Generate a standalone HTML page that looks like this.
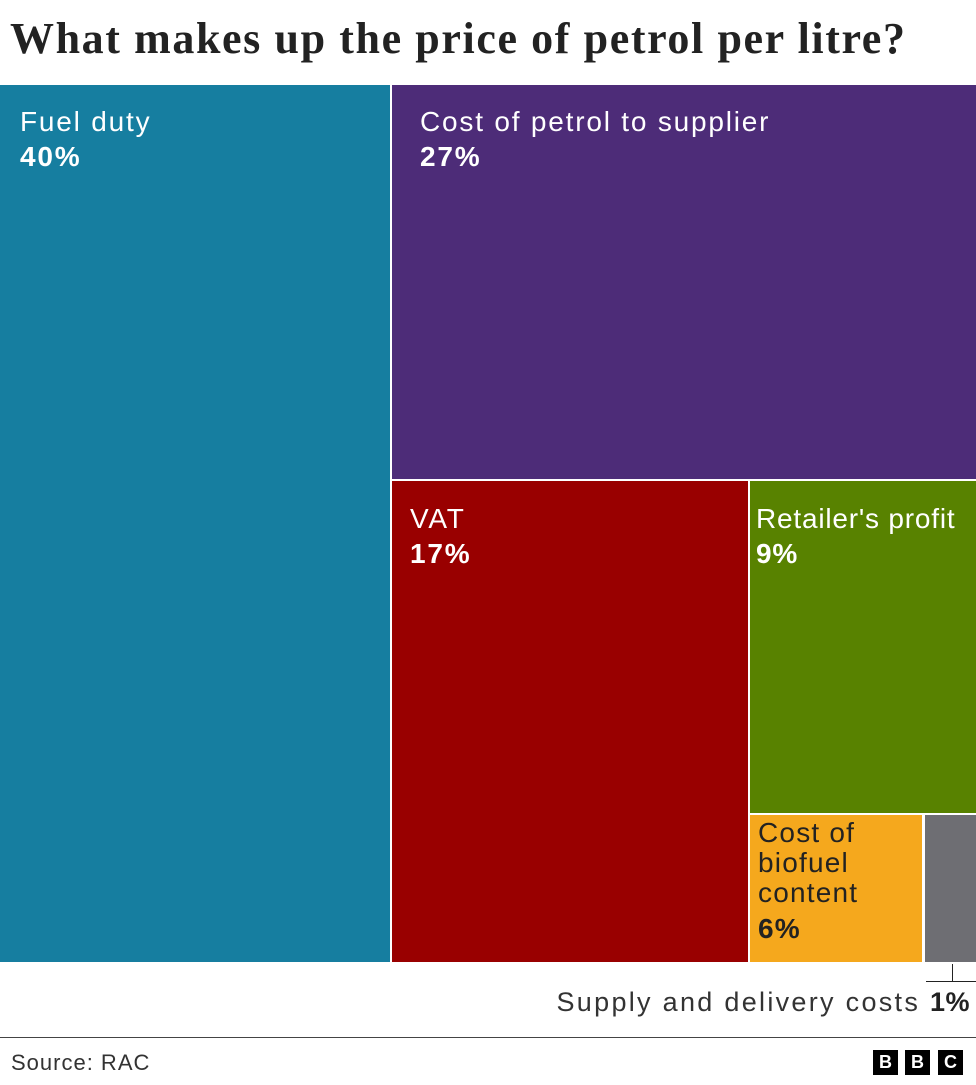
<!DOCTYPE html>
<html><head><meta charset="utf-8"><style>
body{margin:0;width:976px;height:1085px;background:#fff;position:relative;overflow:hidden;font-family:"Liberation Sans",sans-serif}
.t{position:absolute;left:10px;top:13px;font-family:"Liberation Serif",serif;font-size:44px;font-weight:bold;letter-spacing:1.6px;color:#222;white-space:nowrap}
.b{position:absolute}
.l{position:absolute;font-size:28px;line-height:32px;color:#fff;white-space:nowrap;letter-spacing:1.8px}
.l b{display:block;margin-top:3px}
.bb{position:absolute;top:1050px;width:25px;height:25px;background:#000;color:#fff;font-weight:bold;font-size:18px;text-align:center;line-height:25px}
</style></head><body>
<div class="t">What makes up the price of petrol per litre?</div>
<div class="b" style="left:0;top:85px;width:390px;height:877px;background:#167ea0"></div>
<div class="b" style="left:392px;top:85px;width:584px;height:394px;background:#4d2c78"></div>
<div class="b" style="left:392px;top:481px;width:356px;height:481px;background:#990000"></div>
<div class="b" style="left:750px;top:481px;width:226px;height:332px;background:#588200"></div>
<div class="b" style="left:750px;top:815px;width:172px;height:147px;background:#f5a81d"></div>
<div class="b" style="left:925px;top:815px;width:51px;height:147px;background:#6e6e73"></div>
<div class="l" style="left:20px;top:106px">Fuel duty<b>40%</b></div>
<div class="l" style="left:420px;top:106px">Cost of petrol to supplier<b>27%</b></div>
<div class="l" style="left:410px;top:503px">VAT<b>17%</b></div>
<div class="l" style="left:756px;top:503px;letter-spacing:0.8px">Retailer's profit<b>9%</b></div>
<div class="l" style="left:758px;top:818px;color:#222;line-height:30px;letter-spacing:1.2px">Cost of<br>biofuel<br>content<b style="margin-top:6px">6%</b></div>
<div class="b" style="left:952px;top:964px;width:1px;height:18px;background:#222"></div>
<div class="b" style="left:926px;top:981px;width:50px;height:1px;background:#222"></div>
<div class="l" style="right:6px;top:986px;color:#333;font-size:27px;letter-spacing:2.3px">Supply and delivery costs <span style="font-weight:bold;color:#222;letter-spacing:0.5px">1%</span></div>
<div class="b" style="left:0;top:1037px;width:976px;height:1px;background:#444"></div>
<div class="l" style="left:11px;top:1047px;color:#333;font-size:22px;letter-spacing:1px">Source: RAC</div>
<div class="bb" style="left:873px">B</div><div class="bb" style="left:905px">B</div><div class="bb" style="left:938px">C</div>
</body></html>
